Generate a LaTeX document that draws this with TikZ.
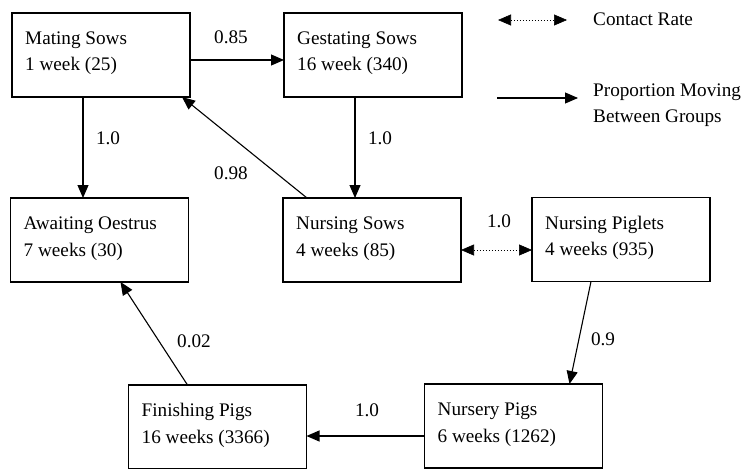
\documentclass[tikz,border=0pt]{standalone}
\usepackage{fontspec}
\setmainfont{Liberation Serif}
\usetikzlibrary{arrows.meta,calc}
\tikzset{
  box/.style={draw,line width=1.2pt,minimum width=178pt,minimum height=84pt,inner sep=0pt,outer sep=0pt},
  boxtext/.style={anchor=base west,inner sep=0pt,align=left,font=\fontsize{19.2}{26.5}\selectfont},
  lab/.style={inner sep=0pt,font=\fontsize{19.2}{26}\selectfont},
  arr/.style={line width=1.1pt,-{Triangle[length=13pt,width=11pt]}},
  contact/.style={line width=0.6pt,dash pattern=on 1.5pt off 1.5pt,{Triangle[length=13pt,width=11pt]}-{Triangle[length=13pt,width=11pt]}},
}
\begin{document}
\begin{tikzpicture}[x=1pt,y=-1pt]
\useasboundingbox (0,0) rectangle (743,468);
% boxes
\node[box] (ms) at (101,55) {};
\node[box] (gs) at (373,55) {};
\node[box] (ao) at (99.5,240) {};
\node[box] (ns) at (372,240) {};
\node[box] (np) at (621,239.5) {};
\node[box] (fp) at (217.5,427) {};
\node[box] (nup) at (513.5,426) {};
% box texts (anchor = baseline of the second line)
\node[boxtext] (tms) at ($(ms.north west)+(13,58)$) {Mating Sows\\1 week (25)};
\node[boxtext] (tgs) at ($(gs.north west)+(13,58)$) {Gestating Sows\\16 week (340)};
\node[boxtext] (tao) at ($(ao.north west)+(13,58)$) {Awaiting Oestrus\\7 weeks (30)};
\node[boxtext] (tns) at ($(ns.north west)+(13,58)$) {Nursing Sows\\4 weeks (85)};
\node[boxtext] (tnp) at ($(np.north west)+(13,58)$) {Nursing Piglets\\4 weeks (935)};
\node[boxtext] (tfp) at ($(fp.north west)+(13,58)$) {Finishing Pigs\\16 weeks (3366)};
\node[boxtext] (tnup) at ($(nup.north west)+(13,58)$) {Nursery Pigs\\6 weeks (1262)};
% connectors
\draw[arr] (ms.east |- 0,60) -- (gs.west |- 0,60);
\draw[arr] (ms.south -| 83,0) -- (ao.north -| 83,0);
\draw[arr] (gs.south -| 355,0) -- (ns.north -| 355,0);
\draw[arr] ($(ns.north west)+(24,0)$) -- ($(ms.south west)+(170,0)$);
\draw[contact] (ns.east |- 0,250) -- (np.west |- 0,250);
\draw[arr] ($(np.south west)+(59,0)$) -- ($(nup.north west)+(145,0)$);
\draw[arr] (nup.west |- 0,436) -- (fp.east |- 0,436);
\draw[arr] ($(fp.north west)+(59,0)$) -- ($(ao.south west)+(110,0)$);
% labels
\node[lab] (l1) at (231,37) {0.85};
\node[lab] (l2) at (108,138) {1.0};
\node[lab] (l3) at (380,138) {1.0};
\node[lab] (l4) at (231,173) {0.98};
\node[lab] (l5) at (499,221) {1.0};
\node[lab] (l6) at (603,339) {0.9};
\node[lab] (l7) at (367,410) {1.0};
\node[lab] (l8) at (194,341) {0.02};
% legend
\coordinate (c1) at (498,20);
\coordinate (c2) at (567,20);
\draw[contact] (c1) -- (c2);
\node[lab,anchor=base west] (lc) at (593,26) {Contact Rate};
\coordinate (p1) at (497,98);
\coordinate (p2) at (578,98);
\draw[arr] (p1) -- (p2);
\node[boxtext,font=\fontsize{19.2}{25}\selectfont] (lp) at (593,122) {Proportion Moving\\Between Groups};
\end{tikzpicture}
\end{document}
